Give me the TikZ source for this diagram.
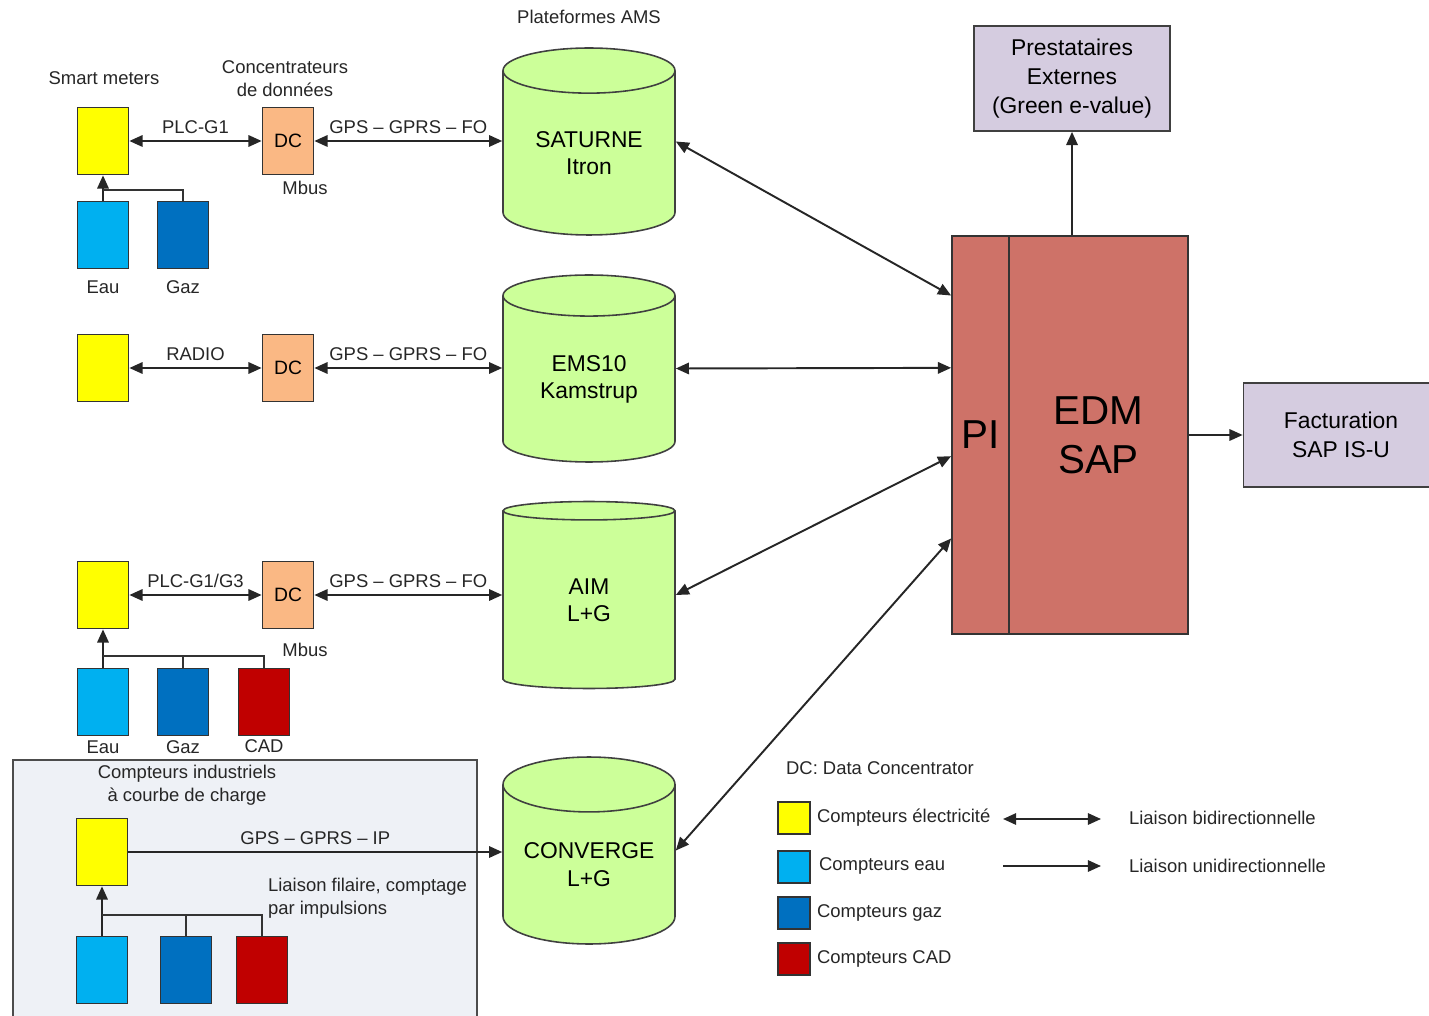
\documentclass[tikz,border=0pt]{standalone}
\usepackage{fontspec}
\setmainfont{Liberation Sans}
\usetikzlibrary{shapes.geometric,arrows.meta,calc}

\definecolor{elecyellow}{HTML}{FFFF00}
\definecolor{eaublue}{HTML}{00B0F0}
\definecolor{gazblue}{HTML}{0070C0}
\definecolor{cadred}{HTML}{C00000}
\definecolor{dcorange}{HTML}{FAB884}
\definecolor{amsgreen}{HTML}{CCFF99}
\definecolor{sysred}{HTML}{CE7268}
\definecolor{extpurple}{HTML}{D5CCE0}
\definecolor{indusbg}{HTML}{EEF1F6}

\newcommand{\smallfont}{\fontsize{10.5}{13}\selectfont}
\newcommand{\midfont}{\fontsize{13}{15.5}\selectfont}
\newcommand{\bigfont}{\fontsize{23}{28}\selectfont}

\begin{document}
\begin{tikzpicture}[x=0.02cm, y=-0.02cm,
  bidir/.style={{Triangle[length=7.5pt,width=6.5pt]}-{Triangle[length=7.5pt,width=6.5pt]}, line width=1.1pt, draw=black!85},
  unidir/.style={-{Triangle[length=7.5pt,width=6.5pt]}, line width=1.1pt, draw=black!85},
  wire/.style={line width=1.1pt, draw=black!80},
  meter/.style={draw=black!80, line width=1pt, minimum width=1.02cm, minimum height=1.34cm, inner sep=0pt},
  elec/.style={meter, fill=elecyellow},
  eau/.style={meter, fill=eaublue},
  gaz/.style={meter, fill=gazblue},
  cad/.style={meter, fill=cadred},
  dcbox/.style={meter, fill=dcorange, font=\fontsize{11}{13}\selectfont},
  platform/.style={cylinder, shape border rotate=90, aspect=0.42, draw=black!75, line width=0.9pt,
    fill=amsgreen, minimum width=3.44cm, minimum height=3.74cm, font=\midfont, align=center,
    inner sep=0pt, anchor=shape center},
  sysbox/.style={draw=black!80, line width=1pt, fill=sysred, minimum height=7.96cm, font=\bigfont, align=center, inner sep=0pt},
  extbox/.style={draw=black!75, line width=1pt, fill=extpurple, font=\fontsize{13}{16.5}\selectfont, align=center, inner sep=0pt},
  legsq/.style={draw=black!80, line width=1pt, minimum width=0.64cm, minimum height=0.64cm, inner sep=0pt},
  lbl/.style={font=\smallfont, text=black!85, inner sep=1pt},
  over/.style={lbl, above=2.5pt},
]
\useasboundingbox (0,0) rectangle (1429,1016);

% industrial meters frame
\fill[indusbg] (13,760) rectangle (477,1020);
\draw[line width=1pt, black!70] (13,1020) -- (13,760) -- (477,760) -- (477,1020);

% === AMS PLATFORMS ===
\node[lbl] (lams) at (589,17) {Plateformes AMS};
\node[platform] (ams1) at (589,141.5) {SATURNE\\Itron};
\node[platform] (ams2) at (589,368.5) {EMS10\\Kamstrup};
\node[platform] (ams3) at (589,595) {AIM\\L+G};
\node[platform] (ams4) at (589,850.5) {CONVERGE\\L+G};

% === ROW 1 : SATURNE ===
\node[lbl] (lsm) at (104,78) {Smart meters};
\node[lbl, align=center] (lconc) at (285,79) {Concentrateurs\\de données};
\node[elec] (sm1) at (103,141) {};
\node[dcbox] (dc1) at (288,141) {DC};
\node[eau] (eau1) at (103,235) {};
\node[gaz] (gaz1) at (183,235) {};
\node[lbl] (lmbus1) at (305,188) {Mbus};
\node[lbl] (leau1) at (103,287) {Eau};
\node[lbl] (lgaz1) at (183,287) {Gaz};
\coordinate (bus1) at (103,190);
\draw[bidir] (sm1) -- node[over] {PLC-G1} (dc1);
\draw[bidir] (dc1) -- node[over] {GPS -- GPRS -- FO} (dc1 -| ams1.west);
\draw[unidir] (eau1.north) -- (sm1.south);
\draw[wire] (gaz1.north) |- (bus1);

% === ROW 2 : EMS10 ===
\node[elec] (sm2) at (103,368) {};
\node[dcbox] (dc2) at (288,368) {DC};
\draw[bidir] (sm2) -- node[over] {RADIO} (dc2);
\draw[bidir] (dc2) -- node[over] {GPS -- GPRS -- FO} (dc2 -| ams2.west);

% === ROW 3 : AIM ===
\node[elec] (sm3) at (103,595) {};
\node[dcbox] (dc3) at (288,595) {DC};
\node[eau] (eau3) at (103,702) {};
\node[gaz] (gaz3) at (183,702) {};
\node[cad] (cad3) at (264,702) {};
\node[lbl] (lmbus3) at (305,650) {Mbus};
\node[lbl] (leau3) at (103,747) {Eau};
\node[lbl] (lgaz3) at (183,747) {Gaz};
\node[lbl] (lcad3) at (264,746) {CAD};
\coordinate (bus3) at (103,656);
\draw[bidir] (sm3) -- node[over] {PLC-G1/G3} (dc3);
\draw[bidir] (dc3) -- node[over] {GPS -- GPRS -- FO} (dc3 -| ams3.west);
\draw[unidir] (eau3.north) -- (sm3.south);
\draw[wire] (gaz3.north) |- (bus3);
\draw[wire] (cad3.north) |- (bus3);

% === ROW 4 : industrial meters ===
\node[lbl, align=center] (lind) at (187,785) {Compteurs industriels\\à courbe de charge};
\node[elec] (sm4) at (102,852) {};
\node[eau] (eau4) at (102,970) {};
\node[gaz] (gaz4) at (186,970) {};
\node[cad] (cad4) at (262,970) {};
\node[lbl, align=left, anchor=west] (lfil) at (266,898) {Liaison filaire, comptage\\par impulsions};
\coordinate (bus4) at (102,915);
\draw[unidir] (sm4.east) -- node[over] {GPS -- GPRS -- IP} (sm4.east -| ams4.west);
\draw[unidir] (eau4.north) -- (sm4.south);
\draw[wire] (gaz4.north) |- (bus4);
\draw[wire] (cad4.north) |- (bus4);

% === SYSTEMS ===
\node[sysbox, minimum width=1.14cm] (pi) at (980.5,435) {PI};
\node[sysbox, minimum width=3.58cm] (edm) at (1098.5,435) {EDM\\SAP};
\node[extbox, minimum width=3.92cm, minimum height=2.1cm] (presta) at (1072,78.5) {Prestataires\\Externes\\(Green e-value)};
\node[extbox, minimum width=3.9cm, minimum height=2.08cm] (fact) at (1341,435) {Facturation\\SAP IS-U};

\draw[bidir] (ams1.shape center -| ams1.east) -- ($(pi.north west)!0.151!(pi.south west)$);
\draw[bidir] (ams2.shape center -| ams2.east) -- ($(pi.north west)!0.332!(pi.south west)$);
\draw[bidir] (ams3.shape center -| ams3.east) -- ($(pi.north west)!0.553!(pi.south west)$);
\draw[bidir] (ams4.shape center -| ams4.east) -- ($(pi.north west)!0.759!(pi.south west)$);
\draw[unidir] (presta.south |- edm.north) -- (presta.south);
\draw[unidir] (edm.east) -- (fact.west);

% === LEGEND ===
\node[lbl, anchor=west] (ldc) at (784,768) {DC: Data Concentrator};
\node[legsq, fill=elecyellow] (leg1) at (794,818) {};
\node[legsq, fill=eaublue] (leg2) at (794,867) {};
\node[legsq, fill=gazblue] (leg3) at (794,913) {};
\node[legsq, fill=cadred] (leg4) at (794,959) {};
\node[lbl, anchor=west] (tleg1) at (815,818) {Compteurs électricité};
\node[lbl, anchor=west] (tleg2) at (817,866) {Compteurs eau};
\node[lbl, anchor=west] (tleg3) at (815,913) {Compteurs gaz};
\node[lbl, anchor=west] (tleg4) at (815,959) {Compteurs CAD};
\coordinate (bidl) at (1003,819);
\coordinate (bidr) at (1101,819);
\coordinate (unil) at (1003,866);
\coordinate (unir) at (1101,866);
\draw[bidir] (bidl) -- (bidr);
\draw[unidir] (unil) -- (unir);
\node[lbl, anchor=west] (tbid) at (1127,818) {Liaison bidirectionnelle};
\node[lbl, anchor=west] (tuni) at (1127,866) {Liaison unidirectionnelle};
\end{tikzpicture}
\end{document}
